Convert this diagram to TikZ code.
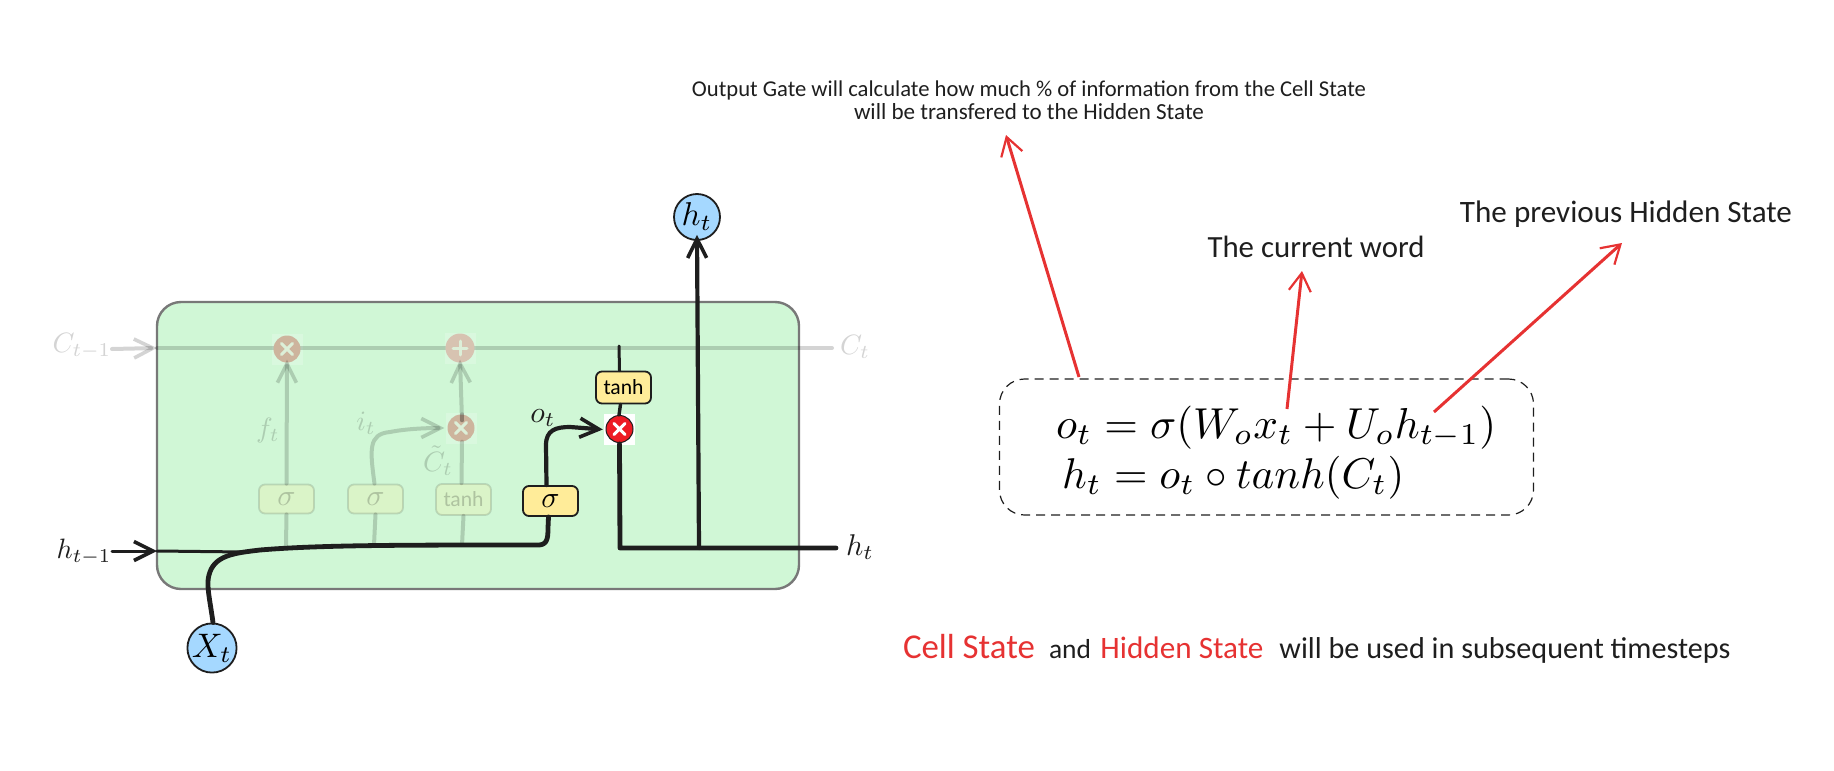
\documentclass[tikz,border=0pt]{standalone}
\usepackage{graphicx}
\usepackage{fontspec}
\usetikzlibrary{arrows.meta,calc}
\newfontfamily\hand{Carlito}
\definecolor{ink}{HTML}{1E1E1E}
\definecolor{cellgreen}{HTML}{D0F7D6}
\definecolor{cellstroke}{HTML}{787878}
\definecolor{nodeblue}{HTML}{A5D8FF}
\definecolor{boxyellow}{HTML}{FFEC99}
\definecolor{notered}{HTML}{E63232}
\definecolor{gatered}{HTML}{ED1C24}
\definecolor{fadedop}{HTML}{CDB49D}
\definecolor{fademark}{HTML}{DCEFD8}
\newcommand{\fitw}[2]{\resizebox{#1pt}{!}{#2}}
\newcommand{\crossmark}[2]{\draw[line width=3pt,#2,line cap=round] ([shift={(-5.5,-5.5)}]#1.center) -- ([shift={(5.5,5.5)}]#1.center) ([shift={(-5.5,5.5)}]#1.center) -- ([shift={(5.5,-5.5)}]#1.center);}
\tikzset{
  x=1pt,y=-1pt,
  barb/.style={-{Straight Barb[length=19pt,width=19pt,line width=#1]}},
  barb/.default=3.6pt,
  mainline/.style={draw=ink,line width=4.2pt,line cap=round,line join=round},
  thinmain/.style={draw=ink,line width=3pt,line cap=round},
  fadeline/.style={draw=black,draw opacity=.17,line width=4pt,line cap=round},
  gatebox/.style={draw=ink,line width=1.8pt,fill=boxyellow,rounded corners=6pt,minimum width=55pt,minimum height=30pt,inner sep=0pt},
  fadebox/.style={draw=black,draw opacity=.13,line width=1.8pt,fill=boxyellow,fill opacity=.22,text opacity=.2,rounded corners=6pt,minimum width=55pt,minimum height=29pt,inner sep=0pt},
  fadeop/.style={circle,fill=fadedop,minimum size=27pt,inner sep=0pt},
  haze/.style={fill=white,fill opacity=.2,minimum size=31pt,inner sep=0pt},
  bluecirc/.style={circle,draw=ink,line width=1.8pt,fill=nodeblue,minimum size=46pt,inner sep=0pt},
  mlabel/.style={inner sep=0pt,text=ink},
  flabel/.style={inner sep=0pt,text=black,text opacity=.17},
  note/.style={inner sep=0pt,text=ink,font=\hand},
  redarrow/.style={draw=notered,line width=3pt,-{Straight Barb[length=18pt,width=22pt,line width=2.2pt]}},
}
\begin{document}
\begin{tikzpicture}
\useasboundingbox (0,0) rectangle (1834,771);
% cell
\node[draw=cellstroke,line width=2.4pt,fill=cellgreen,rounded corners=24pt,minimum width=642pt,minimum height=287pt,inner sep=0pt] (cell) at (478,445.5) {};
% faded coordinates
\coordinate (cin) at (112,349);
\coordinate (cedge) at (157,348);
\coordinate (cout) at (832,348);
\coordinate (fjoin) at (286,545);
\coordinate (ijoin) at (374,545);
\coordinate (cjoin) at (462,545);
% faded nodes
\node[haze] (hz1) at (287,349) {};
\node[haze] (hz2) at (460,348) {};
\node[haze] (hz3) at (461,428) {};
\draw[fadeline] (cedge) -- (cout);
\draw[fadeline,barb] (cin) -- (cedge);
\node[fadeop] (mulf) at (287,349) {};
\node[fadeop,minimum size=29pt,fill=fadedop!80!white] (addc) at (460,348) {};
\node[fadeop] (mulc) at (461,428) {};
\crossmark{mulf}{fademark}
\draw[line width=3pt,fademark,line cap=round] ([shift={(-7,0)}]addc.center) -- ([shift={(7,0)}]addc.center) ([shift={(0,-7)}]addc.center) -- ([shift={(0,7)}]addc.center);
\crossmark{mulc}{fademark}
\node[fadebox] (sf) at (286.5,499) {\scalebox{3}{$\sigma$}};
\node[fadebox] (si) at (375.5,499) {\scalebox{3}{$\sigma$}};
\node[fadebox,minimum height=31pt] (st) at (463.5,499.5) {\hand\fitw{40}{tanh}};
\draw[fadeline,barb] (sf.north) -- ([yshift=3pt]mulf.south);
\draw[fadeline] (sf.south) -- (fjoin);
\draw[fadeline] (si.south) -- (ijoin);
\draw[fadeline] (st.south) -- (cjoin);
\draw[fadeline] ([xshift=-2pt]st.north) -- ([xshift=1pt]mulc.south);
\draw[fadeline] ([xshift=1pt]mulc.north) -- ([xshift=1pt,yshift=-6pt]mulc.north);
\draw[fadeline,barb] ([xshift=-1pt]si.north) .. controls (370,450) and (368,434) .. (390,432) .. controls (405,429) and (425,428) .. ([xshift=-3pt]mulc.west);
\draw[fadeline,barb] ([xshift=1pt,yshift=-6pt]mulc.north) -- ([yshift=3pt]addc.south);
\node[flabel] (lcin) at (82,346) {\scalebox{2.8}{$C_{t-1}$}};
\node[flabel] (lcout) at (855,347) {\scalebox{2.8}{$C_t$}};
\node[flabel] (lf) at (268,430) {\scalebox{2.8}{$f_t$}};
\node[flabel] (li) at (366,423) {\scalebox{2.8}{$i_t$}};
\node[flabel] (lct) at (438,461) {\scalebox{2.8}{$\tilde{C}_t$}};
% output gate
\node[gatebox] (so) at (550.5,501) {\scalebox{3}{$\sigma$}};
\node[gatebox,minimum height=32pt] (tanh) at (623.5,387.5) {\hand\fitw{40}{tanh}};
\node[fill=white,minimum size=31pt,inner sep=0pt] (hzo) at (619.5,429.5) {};
\node[circle,fill=gatered,draw=ink,line width=1pt,minimum size=27pt,inner sep=0pt] (mulo) at (619.5,429) {};
\crossmark{mulo}{white}
\node[bluecirc] (ht) at (697,217) {\scalebox{3.3}{$h_t$}};
\node[bluecirc] (xt) at (212,648) {\scalebox{3.4}{$X_t$}};
% black connectors
\coordinate (hin) at (112,551);
\coordinate (hedge) at (157,551);
\coordinate (hmerge) at (245,552);
\coordinate (upbase) at (620,548);
\coordinate (htbase) at (699,548);
\coordinate (hout) at (836,548);
\coordinate (ctop) at (619,346);
\draw[thinmain,barb] (hin) -- (hedge);
\draw[thinmain] (hedge) -- (hmerge);
\draw[mainline,line width=4.8pt] ([xshift=1pt]xt.north) .. controls (210,600) and (206,585) .. (209,575) .. controls (214,555) and (235,553) .. (260,550) .. controls (320,545) and (400,545) .. (535,545) .. controls (547,546) and (548,540) .. (548,528) -- ([xshift=-2pt]so.south);
\draw[mainline,barb] ([xshift=-4pt]so.north) -- (546,445) .. controls (546,430) and (556,427) .. (570,427) -- ([xshift=-1pt]hzo.west);
\draw[thinmain] ([xshift=-4pt]tanh.north) -- (ctop);
\draw[thinmain,line width=3.4pt] ([xshift=-3pt]tanh.south) -- ([xshift=-0.5pt]mulo.north);
\draw[mainline,line width=4.8pt] ([xshift=0pt,yshift=-1pt]mulo.south) -- (upbase) -- (hout);
\draw[mainline,barb] (htbase) -- ([yshift=6pt]ht.south);
% math labels
\node[mlabel] (lho) at (84,552) {\scalebox{2.8}{$h_{t-1}$}};
\node[mlabel] (lhr) at (860,547) {\scalebox{3}{$h_t$}};
\node[mlabel] (lot) at (543,418) {\scalebox{3}{$o_t$}};
% formula
\node[draw=ink,dashed,dash pattern=on 9pt off 6pt,line width=1.2pt,rounded corners=25pt,minimum width=534pt,minimum height=136pt,inner sep=0pt] (fbox) at (1266.5,447) {};
\node[anchor=base west,inner sep=0pt] (f1) at (1056,438) {\fitw{440}{$o_t = \sigma(W_o x_t + U_o h_{t-1})$}};
\node[anchor=base west,inner sep=0pt] (f2) at (1062,488) {\fitw{342}{$h_t = o_t \circ tanh(C_t)$}};
% notes
\node[note,align=center] (n1a) at (1029,90) {\fitw{674}{Output Gate will calculate how much \% of information from the Cell State}};
\node[note,align=center] (n1b) at (1029,112) {\fitw{350}{will be transfered to the Hidden State}};
\node[note] (n2) at (1316,247) {\fitw{217}{The current word}};
\node[note] (n3) at (1626,214) {\fitw{332}{The previous Hidden State}};
\coordinate (a1s) at (1079,377);
\coordinate (a1e) at (1006,135);
\coordinate (a2s) at (1287,409);
\coordinate (a2e) at (1302,271);
\coordinate (a3s) at (1434,412);
\coordinate (a3e) at (1622,243);
\draw[redarrow] (a1s) -- (a1e);
\draw[redarrow] (a2s) -- (a2e);
\draw[redarrow] (a3s) -- (a3e);
\node[note,text=notered,anchor=base] (b1) at (969,658) {\fitw{132}{Cell State}};
\node[note,anchor=base] (b2) at (1070,658) {\fitw{42}{and}};
\node[note,text=notered,anchor=base] (b3) at (1182,658) {\fitw{163}{Hidden State}};
\node[note,anchor=base] (b4) at (1505,658) {\fitw{451}{will be used in subsequent timesteps}};
\end{tikzpicture}
\end{document}
